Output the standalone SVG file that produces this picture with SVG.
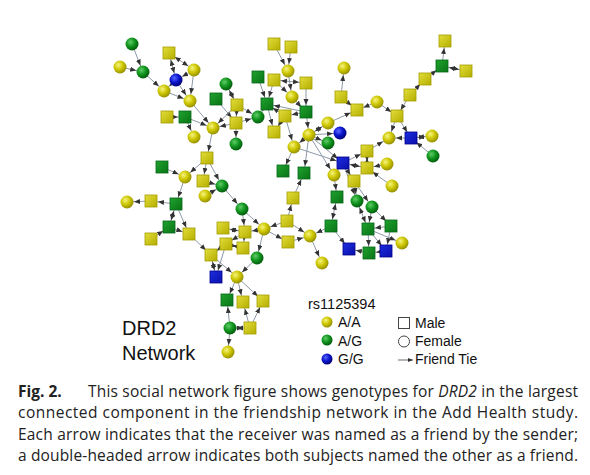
<svg xmlns="http://www.w3.org/2000/svg" width="590" height="475" viewBox="0 0 590 475">
<style>
.e{stroke:#8d99a8;stroke-width:1;fill:none;marker-end:url(#ah)}
.d{stroke:#8d99a8;stroke-width:1;fill:none;marker-end:url(#ah);marker-start:url(#ah)}
.yc{fill:url(#gy)}.gc{fill:url(#gg)}.bc{fill:url(#gb)}
.ys{fill:url(#sy);stroke:#a39d00;stroke-width:0.8}
.gs{fill:url(#sg);stroke:#06661a;stroke-width:0.8}
.bs{fill:url(#sb);stroke:#00008a;stroke-width:0.8}
.lg{font-family:"Liberation Sans",Arial,sans-serif;fill:#111}
.cap{font-family:"Open Sans","Noto Sans","Liberation Sans",sans-serif;font-size:15.5px;fill:#222}
</style>
<defs>
<marker id="ah" markerUnits="userSpaceOnUse" markerWidth="20" markerHeight="10" refX="13" refY="2.5" orient="auto-start-reverse"><path d="M0,0 L6,2.5 L0,5 z" fill="#333"/></marker>
<marker id="ah2" markerUnits="userSpaceOnUse" markerWidth="10" markerHeight="10" refX="5" refY="2" orient="auto"><path d="M0,0 L5,2 L0,4 z" fill="#333"/></marker>
<radialGradient id="gy" cx="0.38" cy="0.35" r="0.7"><stop offset="0" stop-color="#f6f480"/><stop offset="0.5" stop-color="#cdc600"/><stop offset="1" stop-color="#8e8900"/></radialGradient>
<radialGradient id="gg" cx="0.38" cy="0.35" r="0.7"><stop offset="0" stop-color="#5fcc66"/><stop offset="0.5" stop-color="#10941e"/><stop offset="1" stop-color="#03550b"/></radialGradient>
<radialGradient id="gb" cx="0.38" cy="0.35" r="0.7"><stop offset="0" stop-color="#5a68ff"/><stop offset="0.5" stop-color="#0a14cc"/><stop offset="1" stop-color="#00006a"/></radialGradient>
<linearGradient id="sy" x1="0" y1="0" x2="1" y2="1"><stop offset="0" stop-color="#e2de3a"/><stop offset="1" stop-color="#b5ae00"/></linearGradient>
<linearGradient id="sg" x1="0" y1="0" x2="1" y2="1"><stop offset="0" stop-color="#1fa22e"/><stop offset="1" stop-color="#0a7416"/></linearGradient>
<linearGradient id="sb" x1="0" y1="0" x2="1" y2="1"><stop offset="0" stop-color="#1c2ce0"/><stop offset="1" stop-color="#0a10aa"/></linearGradient>
</defs>
<rect width="590" height="475" fill="#fff"/>
<g id="connectors">
<line class="e" x1="132" y1="44" x2="143" y2="72"/>
<line class="e" x1="120" y1="67" x2="143" y2="72"/>
<line class="e" x1="143" y1="72" x2="164" y2="91"/>
<line class="d" x1="169" y1="53" x2="176" y2="80"/>
<line class="d" x1="169" y1="53" x2="194" y2="70"/>
<line class="e" x1="194" y1="70" x2="176" y2="80"/>
<line class="e" x1="176" y1="80" x2="164" y2="91"/>
<line class="e" x1="176" y1="80" x2="190" y2="101"/>
<line class="e" x1="164" y1="91" x2="190" y2="101"/>
<line class="e" x1="194" y1="70" x2="190" y2="101"/>
<line class="e" x1="190" y1="101" x2="213" y2="128"/>
<line class="d" x1="226" y1="84" x2="237" y2="105"/>
<line class="e" x1="216" y1="99" x2="236" y2="123"/>
<line class="e" x1="237" y1="105" x2="258" y2="117"/>
<line class="e" x1="237" y1="105" x2="213" y2="128"/>
<line class="e" x1="237" y1="105" x2="236" y2="123"/>
<line class="e" x1="236" y1="123" x2="213" y2="128"/>
<line class="e" x1="236" y1="123" x2="258" y2="117"/>
<line class="e" x1="236" y1="123" x2="236" y2="144"/>
<line class="e" x1="167" y1="117" x2="185" y2="117"/>
<line class="e" x1="185" y1="117" x2="213" y2="128"/>
<line class="e" x1="185" y1="117" x2="194" y2="137"/>
<line class="e" x1="213" y1="128" x2="207" y2="158"/>
<line class="e" x1="274" y1="44" x2="288" y2="71"/>
<line class="e" x1="291" y1="47" x2="288" y2="71"/>
<line class="e" x1="288" y1="71" x2="292" y2="97"/>
<line class="e" x1="258" y1="77" x2="267" y2="104"/>
<line class="e" x1="274" y1="80" x2="267" y2="104"/>
<line class="d" x1="274" y1="80" x2="306" y2="83"/>
<line class="e" x1="274" y1="80" x2="292" y2="97"/>
<line class="e" x1="306" y1="83" x2="306" y2="112"/>
<line class="e" x1="292" y1="97" x2="306" y2="112"/>
<line class="e" x1="306" y1="112" x2="267" y2="104"/>
<line class="e" x1="285" y1="116" x2="267" y2="104"/>
<line class="e" x1="267" y1="104" x2="274" y2="132"/>
<line class="e" x1="267" y1="104" x2="258" y2="117"/>
<line class="e" x1="285" y1="116" x2="274" y2="132"/>
<line class="e" x1="285" y1="116" x2="294" y2="147"/>
<line class="e" x1="306" y1="112" x2="285" y2="116"/>
<line class="e" x1="306" y1="112" x2="309" y2="135"/>
<line class="d" x1="309" y1="135" x2="328" y2="123"/>
<line class="e" x1="309" y1="135" x2="340" y2="133"/>
<line class="e" x1="309" y1="135" x2="328" y2="143"/>
<line class="e" x1="328" y1="123" x2="357" y2="110"/>
<line class="e" x1="341" y1="97" x2="344" y2="68"/>
<line class="e" x1="341" y1="97" x2="357" y2="110"/>
<line class="e" x1="377" y1="102" x2="357" y2="110"/>
<line class="e" x1="377" y1="102" x2="397" y2="116"/>
<line class="e" x1="410" y1="95" x2="397" y2="116"/>
<line class="e" x1="410" y1="95" x2="425" y2="79"/>
<line class="e" x1="425" y1="79" x2="442" y2="66"/>
<line class="e" x1="442" y1="66" x2="445" y2="41"/>
<line class="d" x1="442" y1="66" x2="466" y2="71"/>
<line class="e" x1="397" y1="116" x2="389" y2="138"/>
<line class="e" x1="397" y1="116" x2="411" y2="138"/>
<line class="d" x1="411" y1="138" x2="432" y2="136"/>
<line class="e" x1="433" y1="156" x2="411" y2="138"/>
<line class="e" x1="411" y1="138" x2="389" y2="138"/>
<line class="e" x1="309" y1="135" x2="294" y2="147"/>
<line class="e" x1="294" y1="147" x2="343" y2="163"/>
<line class="e" x1="309" y1="135" x2="304" y2="173"/>
<line class="e" x1="294" y1="147" x2="283" y2="171"/>
<line class="e" x1="309" y1="135" x2="334" y2="175"/>
<line class="e" x1="309" y1="135" x2="343" y2="163"/>
<line class="e" x1="343" y1="163" x2="367" y2="151"/>
<line class="d" x1="343" y1="163" x2="367" y2="168"/>
<line class="e" x1="367" y1="151" x2="389" y2="138"/>
<line class="d" x1="367" y1="151" x2="367" y2="168"/>
<line class="e" x1="387" y1="164" x2="367" y2="168"/>
<line class="e" x1="392" y1="186" x2="367" y2="168"/>
<line class="e" x1="343" y1="163" x2="334" y2="175"/>
<line class="e" x1="343" y1="163" x2="357" y2="201"/>
<line class="e" x1="343" y1="163" x2="354" y2="181"/>
<line class="e" x1="354" y1="181" x2="357" y2="201"/>
<line class="e" x1="354" y1="181" x2="372" y2="207"/>
<line class="e" x1="334" y1="175" x2="337" y2="197"/>
<line class="d" x1="337" y1="197" x2="331" y2="226"/>
<line class="e" x1="293" y1="198" x2="304" y2="173"/>
<line class="e" x1="287" y1="221" x2="293" y2="198"/>
<line class="e" x1="287" y1="221" x2="264" y2="229"/>
<line class="e" x1="264" y1="229" x2="288" y2="242"/>
<line class="e" x1="288" y1="242" x2="310" y2="236"/>
<line class="e" x1="287" y1="221" x2="310" y2="236"/>
<line class="e" x1="331" y1="226" x2="310" y2="236"/>
<line class="e" x1="310" y1="236" x2="322" y2="263"/>
<line class="e" x1="331" y1="226" x2="349" y2="249"/>
<line class="e" x1="369" y1="253" x2="349" y2="249"/>
<line class="e" x1="386" y1="251" x2="369" y2="253"/>
<line class="d" x1="357" y1="201" x2="368" y2="229"/>
<line class="e" x1="372" y1="207" x2="368" y2="229"/>
<line class="e" x1="372" y1="207" x2="391" y2="226"/>
<line class="e" x1="391" y1="226" x2="368" y2="229"/>
<line class="e" x1="368" y1="229" x2="369" y2="253"/>
<line class="e" x1="368" y1="229" x2="386" y2="251"/>
<line class="e" x1="368" y1="229" x2="402" y2="243"/>
<line class="e" x1="391" y1="226" x2="386" y2="251"/>
<line class="e" x1="207" y1="158" x2="185" y2="177"/>
<line class="e" x1="162" y1="167" x2="185" y2="177"/>
<line class="e" x1="207" y1="158" x2="203" y2="181"/>
<line class="e" x1="207" y1="158" x2="222" y2="186"/>
<line class="e" x1="203" y1="181" x2="222" y2="186"/>
<line class="e" x1="205" y1="196" x2="222" y2="186"/>
<line class="e" x1="185" y1="177" x2="176" y2="204"/>
<line class="e" x1="176" y1="204" x2="151" y2="201"/>
<line class="e" x1="151" y1="201" x2="127" y2="202"/>
<line class="d" x1="176" y1="204" x2="169" y2="227"/>
<line class="e" x1="176" y1="204" x2="189" y2="234"/>
<line class="e" x1="151" y1="239" x2="169" y2="227"/>
<line class="e" x1="169" y1="227" x2="189" y2="234"/>
<line class="e" x1="189" y1="234" x2="211" y2="255"/>
<line class="e" x1="222" y1="186" x2="242" y2="209"/>
<line class="e" x1="242" y1="209" x2="245" y2="232"/>
<line class="e" x1="242" y1="209" x2="264" y2="229"/>
<line class="d" x1="223" y1="228" x2="245" y2="232"/>
<line class="e" x1="245" y1="232" x2="243" y2="248"/>
<line class="d" x1="226" y1="244" x2="243" y2="248"/>
<line class="e" x1="245" y1="232" x2="226" y2="244"/>
<line class="e" x1="226" y1="244" x2="211" y2="255"/>
<line class="e" x1="264" y1="229" x2="245" y2="232"/>
<line class="e" x1="264" y1="229" x2="257" y2="258"/>
<line class="d" x1="211" y1="255" x2="216" y2="277"/>
<line class="e" x1="226" y1="244" x2="216" y2="277"/>
<line class="e" x1="211" y1="255" x2="237" y2="277"/>
<line class="e" x1="257" y1="258" x2="237" y2="277"/>
<line class="e" x1="237" y1="277" x2="227" y2="300"/>
<line class="e" x1="237" y1="277" x2="243" y2="302"/>
<line class="e" x1="237" y1="277" x2="263" y2="301"/>
<line class="e" x1="230" y1="328" x2="227" y2="300"/>
<line class="d" x1="230" y1="328" x2="250" y2="328"/>
<line class="e" x1="250" y1="328" x2="243" y2="302"/>
<line class="e" x1="250" y1="328" x2="263" y2="301"/>
<line class="e" x1="230" y1="328" x2="228" y2="352"/>
</g>
<g id="n1"><circle class="gc" cx="132" cy="44" r="6.5"/></g>
<g id="n2"><circle class="yc" cx="120" cy="67" r="6.5"/></g>
<g id="n3"><circle class="gc" cx="143" cy="72" r="6.5"/></g>
<g id="n4"><rect class="ys" x="163" y="47" width="12" height="12"/></g>
<g id="n5"><circle class="yc" cx="194" cy="70" r="6.5"/></g>
<g id="n6"><circle class="bc" cx="176" cy="80" r="6.5"/></g>
<g id="n7"><circle class="yc" cx="164" cy="91" r="6.5"/></g>
<g id="n8"><circle class="yc" cx="190" cy="101" r="6.5"/></g>
<g id="n9"><circle class="gc" cx="226" cy="84" r="6.5"/></g>
<g id="n10"><rect class="gs" x="210" y="93" width="12" height="12"/></g>
<g id="n11"><rect class="ys" x="231" y="99" width="12" height="12"/></g>
<g id="n12"><circle class="gc" cx="258" cy="117" r="6.5"/></g>
<g id="n13"><rect class="ys" x="161" y="111" width="12" height="12"/></g>
<g id="n14"><rect class="gs" x="179" y="111" width="12" height="12"/></g>
<g id="n15"><circle class="yc" cx="213" cy="128" r="6.5"/></g>
<g id="n16"><rect class="ys" x="230" y="117" width="12" height="12"/></g>
<g id="n17"><circle class="yc" cx="194" cy="137" r="6.5"/></g>
<g id="n18"><circle class="gc" cx="236" cy="144" r="6.5"/></g>
<g id="n19"><rect class="ys" x="201" y="152" width="12" height="12"/></g>
<g id="n20"><rect class="ys" x="268" y="38" width="12" height="12"/></g>
<g id="n21"><rect class="ys" x="285" y="41" width="12" height="12"/></g>
<g id="n22"><circle class="yc" cx="288" cy="71" r="6.5"/></g>
<g id="n23"><rect class="gs" x="252" y="71" width="12" height="12"/></g>
<g id="n24"><rect class="ys" x="268" y="74" width="12" height="12"/></g>
<g id="n25"><rect class="ys" x="300" y="77" width="12" height="12"/></g>
<g id="n26"><circle class="yc" cx="292" cy="97" r="6.5"/></g>
<g id="n27"><rect class="gs" x="261" y="98" width="12" height="12"/></g>
<g id="n28"><rect class="ys" x="279" y="110" width="12" height="12"/></g>
<g id="n29"><rect class="gs" x="300" y="106" width="12" height="12"/></g>
<g id="n30"><rect class="ys" x="268" y="126" width="12" height="12"/></g>
<g id="n31"><circle class="yc" cx="309" cy="135" r="6.5"/></g>
<g id="n32"><circle class="yc" cx="328" cy="123" r="6.5"/></g>
<g id="n33"><circle class="gc" cx="328" cy="143" r="6.5"/></g>
<g id="n34"><circle class="bc" cx="340" cy="133" r="6.5"/></g>
<g id="n35"><circle class="yc" cx="294" cy="147" r="6.5"/></g>
<g id="n36"><circle class="yc" cx="344" cy="68" r="6.5"/></g>
<g id="n37"><rect class="ys" x="335" y="91" width="12" height="12"/></g>
<g id="n38"><rect class="ys" x="351" y="104" width="12" height="12"/></g>
<g id="n39"><circle class="yc" cx="377" cy="102" r="6.5"/></g>
<g id="n40"><rect class="ys" x="391" y="110" width="12" height="12"/></g>
<g id="n41"><circle class="yc" cx="389" cy="138" r="6.5"/></g>
<g id="n42"><rect class="bs" x="405" y="132" width="12" height="12"/></g>
<g id="n43"><circle class="yc" cx="432" cy="136" r="6.5"/></g>
<g id="n44"><circle class="gc" cx="433" cy="156" r="6.5"/></g>
<g id="n45"><rect class="ys" x="404" y="89" width="12" height="12"/></g>
<g id="n46"><rect class="ys" x="419" y="73" width="12" height="12"/></g>
<g id="n47"><rect class="gs" x="436" y="60" width="12" height="12"/></g>
<g id="n48"><rect class="ys" x="439" y="35" width="12" height="12"/></g>
<g id="n49"><rect class="ys" x="460" y="65" width="12" height="12"/></g>
<g id="n50"><rect class="ys" x="361" y="145" width="12" height="12"/></g>
<g id="n51"><rect class="bs" x="337" y="157" width="12" height="12"/></g>
<g id="n52"><rect class="ys" x="361" y="162" width="12" height="12"/></g>
<g id="n53"><circle class="yc" cx="387" cy="164" r="6.5"/></g>
<g id="n54"><circle class="yc" cx="392" cy="186" r="6.5"/></g>
<g id="n55"><rect class="gs" x="277" y="165" width="12" height="12"/></g>
<g id="n56"><rect class="gs" x="298" y="167" width="12" height="12"/></g>
<g id="n57"><circle class="yc" cx="334" cy="175" r="6.5"/></g>
<g id="n58"><rect class="ys" x="348" y="175" width="12" height="12"/></g>
<g id="n59"><rect class="gs" x="331" y="191" width="12" height="12"/></g>
<g id="n60"><circle class="gc" cx="357" cy="201" r="6.5"/></g>
<g id="n61"><circle class="gc" cx="372" cy="207" r="6.5"/></g>
<g id="n62"><rect class="ys" x="287" y="192" width="12" height="12"/></g>
<g id="n63"><rect class="ys" x="281" y="215" width="12" height="12"/></g>
<g id="n64"><rect class="gs" x="325" y="220" width="12" height="12"/></g>
<g id="n65"><rect class="gs" x="362" y="223" width="12" height="12"/></g>
<g id="n66"><rect class="gs" x="385" y="220" width="12" height="12"/></g>
<g id="n67"><circle class="yc" cx="402" cy="243" r="6.5"/></g>
<g id="n68"><circle class="yc" cx="264" cy="229" r="6.5"/></g>
<g id="n69"><rect class="ys" x="282" y="236" width="12" height="12"/></g>
<g id="n70"><circle class="yc" cx="310" cy="236" r="6.5"/></g>
<g id="n71"><rect class="bs" x="343" y="243" width="12" height="12"/></g>
<g id="n72"><rect class="gs" x="363" y="247" width="12" height="12"/></g>
<g id="n73"><rect class="bs" x="380" y="245" width="12" height="12"/></g>
<g id="n74"><circle class="yc" cx="322" cy="263" r="6.5"/></g>
<g id="n75"><circle class="gc" cx="257" cy="258" r="6.5"/></g>
<g id="n76"><rect class="gs" x="156" y="161" width="12" height="12"/></g>
<g id="n77"><circle class="yc" cx="185" cy="177" r="6.5"/></g>
<g id="n78"><rect class="ys" x="197" y="175" width="12" height="12"/></g>
<g id="n79"><circle class="gc" cx="222" cy="186" r="6.5"/></g>
<g id="n80"><circle class="yc" cx="205" cy="196" r="6.5"/></g>
<g id="n81"><circle class="yc" cx="127" cy="202" r="6.5"/></g>
<g id="n82"><rect class="ys" x="145" y="195" width="12" height="12"/></g>
<g id="n83"><rect class="gs" x="170" y="198" width="12" height="12"/></g>
<g id="n84"><circle class="gc" cx="242" cy="209" r="6.5"/></g>
<g id="n85"><rect class="gs" x="163" y="221" width="12" height="12"/></g>
<g id="n86"><rect class="ys" x="183" y="228" width="12" height="12"/></g>
<g id="n87"><rect class="ys" x="145" y="233" width="12" height="12"/></g>
<g id="n88"><rect class="ys" x="217" y="222" width="12" height="12"/></g>
<g id="n89"><rect class="ys" x="239" y="226" width="12" height="12"/></g>
<g id="n90"><rect class="ys" x="220" y="238" width="12" height="12"/></g>
<g id="n91"><rect class="ys" x="237" y="242" width="12" height="12"/></g>
<g id="n92"><rect class="ys" x="205" y="249" width="12" height="12"/></g>
<g id="n93"><rect class="bs" x="210" y="271" width="12" height="12"/></g>
<g id="n94"><circle class="yc" cx="237" cy="277" r="6.5"/></g>
<g id="n95"><rect class="gs" x="221" y="294" width="12" height="12"/></g>
<g id="n96"><rect class="ys" x="237" y="296" width="12" height="12"/></g>
<g id="n97"><rect class="ys" x="257" y="295" width="12" height="12"/></g>
<g id="n98"><circle class="gc" cx="230" cy="328" r="6.5"/></g>
<g id="n99"><rect class="ys" x="244" y="322" width="12" height="12"/></g>
<g id="n100"><circle class="yc" cx="228" cy="352" r="6.5"/></g>
<g id="title">
<text class="lg" x="122" y="335" font-size="20">DRD2</text>
<text class="lg" x="122" y="360" font-size="20">Network</text>
</g>
<g id="legend">
<text class="lg" x="308" y="309" font-size="14.5">rs1125394</text>
<circle class="yc" cx="327" cy="322" r="5.5"/>
<circle class="gc" cx="327" cy="340" r="5.5"/>
<circle class="bc" cx="327" cy="359" r="5.5"/>
<text class="lg" x="338" y="327" font-size="14">A/A</text>
<text class="lg" x="338" y="345.5" font-size="14">A/G</text>
<text class="lg" x="338" y="364" font-size="14">G/G</text>
<rect x="398.5" y="317.5" width="11" height="11" fill="none" stroke="#444" stroke-width="1"/>
<circle cx="404" cy="341.5" r="5.5" fill="none" stroke="#444" stroke-width="1"/>
<line x1="398" y1="360" x2="413" y2="360" stroke="#444" stroke-width="0.8" marker-end="url(#ah2)"/>
<text class="lg" x="415" y="327.5" font-size="14">Male</text>
<text class="lg" x="415" y="345.5" font-size="14">Female</text>
<text class="lg" x="415" y="364" font-size="14">Friend Tie</text>
</g>
<g id="caption">
<text class="cap" x="18" y="397" font-weight="bold">Fig. 2.</text>
<text class="cap" x="88" y="397" textLength="490" lengthAdjust="spacing">This social network figure shows genotypes for <tspan font-style="italic">DRD2</tspan> in the largest</text>
<text class="cap" x="18" y="418" textLength="560" lengthAdjust="spacing">connected component in the friendship network in the Add Health study.</text>
<text class="cap" x="18" y="439.5" textLength="560" lengthAdjust="spacing">Each arrow indicates that the receiver was named as a friend by the sender;</text>
<text class="cap" x="18" y="461" textLength="560" lengthAdjust="spacing">a double-headed arrow indicates both subjects named the other as a friend.</text>
</g>
</svg>
